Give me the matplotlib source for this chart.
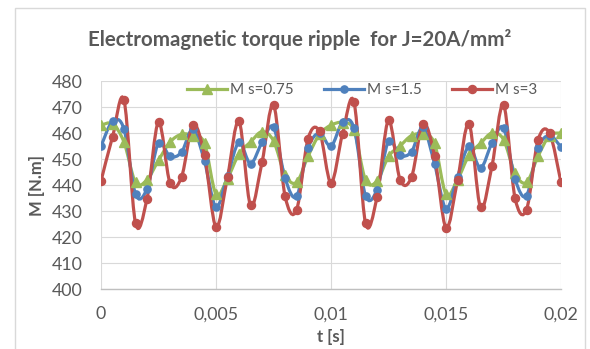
import numpy as np
import matplotlib
matplotlib.use("Agg")
import matplotlib.pyplot as plt
from matplotlib.path import Path
from matplotlib.patches import PathPatch, Rectangle
from matplotlib.lines import Line2D

plt.rcParams['font.family'] = ['Lato', 'DejaVu Sans']

# time samples, step 0.0005 s
t = [i * 0.0005 for i in range(41)]

m_075 = [463.0, 463.5, 456.5, 441.0, 442.0, 449.5, 456.5, 459.5, 459.0, 456.0,
         436.5, 442.5, 452.0, 456.5, 460.5, 457.0, 444.0, 441.0, 451.0, 459.5,
         463.0, 464.0, 461.0, 442.0, 441.5, 451.0, 455.0, 459.0, 459.5, 456.0,
         436.5, 442.0, 451.5, 456.0, 460.0, 457.5, 444.5, 441.0, 451.0, 459.0,
         460.0]
m_15 = [454.9, 464.5, 461.5, 436.5, 438.5, 456.2, 451.0, 452.6, 461.5, 449.1,
        431.5, 443.6, 456.4, 448.2, 456.4, 462.2, 442.7, 435.6, 454.2, 460.0,
        454.9, 464.1, 461.9, 435.9, 438.2, 456.8, 451.4, 452.8, 462.2, 448.2,
        430.9, 443.1, 454.9, 446.5, 456.2, 461.9, 442.3, 435.9, 454.2, 459.0,
        454.6]
m_3 = [441.5, 458.5, 472.6, 425.4, 434.7, 464.2, 440.8, 443.0, 463.2, 451.4,
       423.8, 443.1, 464.5, 432.2, 448.7, 470.9, 435.9, 430.3, 457.7, 460.6,
       440.8, 459.6, 471.9, 425.4, 435.3, 464.9, 442.1, 443.0, 463.6, 451.3,
       423.5, 441.8, 463.6, 431.4, 447.4, 470.9, 435.1, 430.5, 457.2, 460.0,
       441.0]

xticks = [0, 0.005, 0.01, 0.015, 0.02]
xlabels = ['0', '0,005', '0,01', '0,015', '0,02']
yticks = list(range(400, 481, 10))

series = [
    (m_075, 'M s=0.75', '#9BBB59', '^', 6.5),
    (m_15, 'M s=1.5', '#4F81BD', 'o', 5.2),
    (m_3, 'M s=3', '#C0504D', 'o', 5.8),
]

gray = '#595959'


def smooth_path(x, y):
    # excel-like smoothed line: bezier segments through the points
    pts = np.column_stack([x, y])
    n = len(pts)
    verts = [pts[0]]
    codes = [Path.MOVETO]
    for i in range(n - 1):
        p0 = pts[i - 1] if i > 0 else pts[i]
        p1 = pts[i]
        p2 = pts[i + 1]
        p3 = pts[i + 2] if i + 2 < n else pts[i + 1]
        c1 = p1 + (p2 - p0) / 6.0
        c2 = p2 - (p3 - p1) / 6.0
        verts += [c1, c2, p2]
        codes += [Path.CURVE4] * 3
    return Path(verts, codes)


fig = plt.figure(figsize=(5.9, 3.49), dpi=100)
ax = fig.add_axes([101 / 590, 1 - 289 / 349, 460 / 590, 208 / 349])

handles = []
for vals, lab, col, mk, ms in series:
    ax.add_patch(PathPatch(smooth_path(t, vals), facecolor='none',
                           edgecolor=col, lw=2.3, zorder=3))
    ax.plot(t, vals, ls='none', marker=mk, ms=ms, color=col, zorder=4)
    handles.append(Line2D([], [], color=col, lw=2.3, marker=mk, ms=ms, label=lab))

ax.set_xlim(0, 0.02)
ax.set_ylim(400, 480)
ax.set_xticks(xticks)
ax.set_xticklabels(xlabels)
ax.set_yticks(yticks)
ax.grid(True, color='#D9D9D9', lw=0.8, zorder=0)
ax.set_axisbelow(True)
for s in ['top', 'right', 'left']:
    ax.spines[s].set_visible(False)
ax.spines['bottom'].set_color('#BFBFBF')
ax.spines['bottom'].set_linewidth(1.0)
ax.tick_params(length=0, labelsize=12.8, colors=gray)
ax.tick_params(axis='x', pad=12.5)
ax.tick_params(axis='y', pad=13)

ax.set_xlabel('t [s]', fontsize=12, fontweight='bold', color=gray, labelpad=5)
ax.set_ylabel('M [N.m]', fontsize=12, fontweight='bold', color=gray, labelpad=5)

fig.text(0.508, 1 - 40 / 349, 'Electromagnetic torque ripple  for J=20A/mm²',
         ha='center', va='center', fontsize=14.8, fontweight='bold', color=gray)

fig.legend(handles=handles, loc='center', bbox_to_anchor=(362 / 590, 1 - 90 / 349),
           ncol=3, frameon=False, fontsize=11, handlelength=2.6,
           columnspacing=2.0, handletextpad=0.2, labelcolor=gray)

fig.patches.append(Rectangle((15 / 590, -0.02), 570 / 590, 1 - 8 / 349 + 0.02,
                             transform=fig.transFigure, fill=False,
                             edgecolor='#D9D9D9', lw=1.0))

fig.savefig('out.png', dpi=100)
